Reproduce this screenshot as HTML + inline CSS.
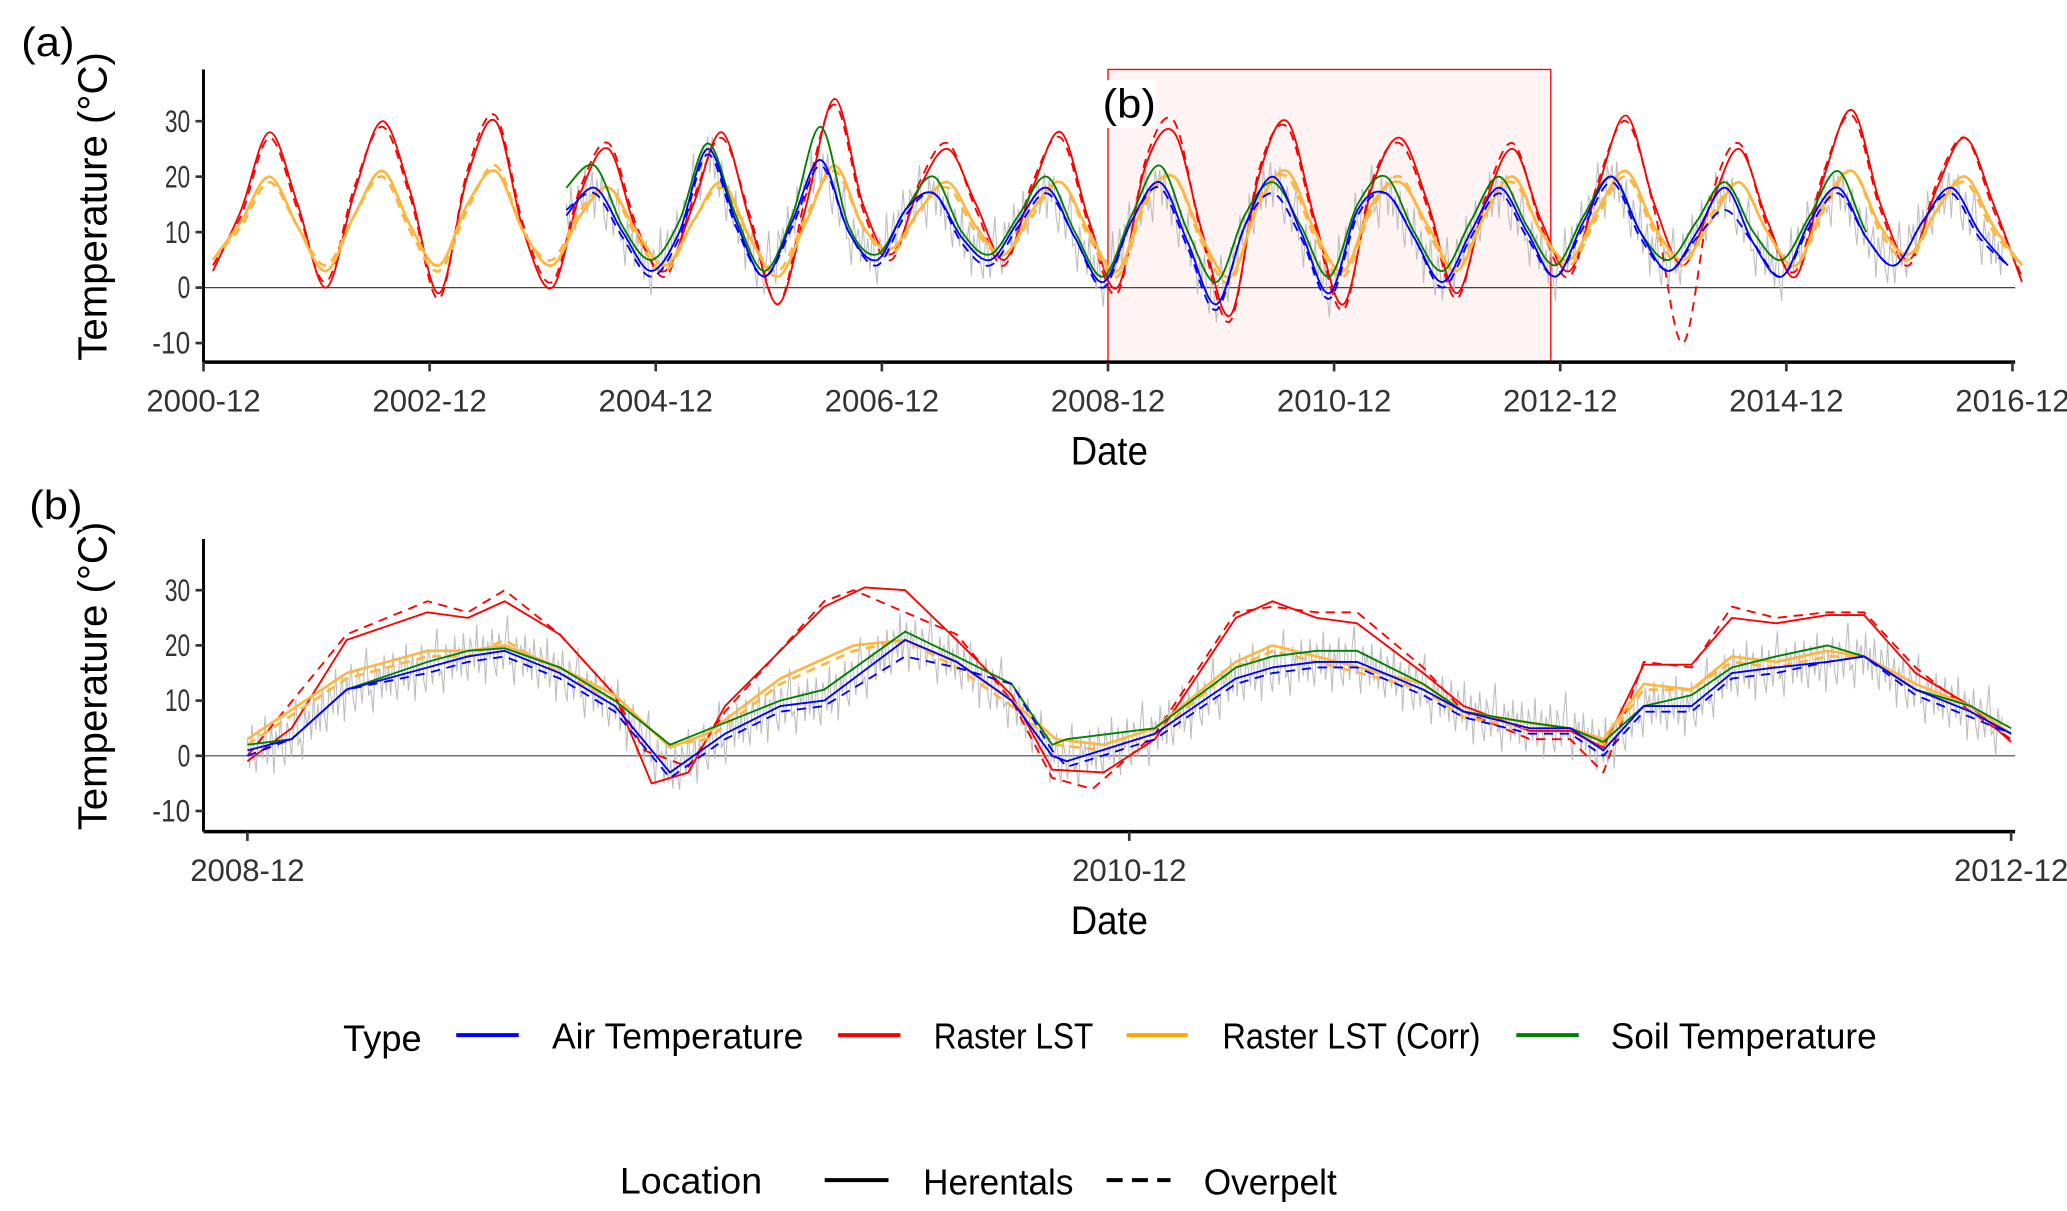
<!DOCTYPE html>
<html><head><meta charset="utf-8"><style>
html,body{margin:0;padding:0;background:#fff;}
svg{display:block;font-family:"Liberation Sans Narrow","Liberation Sans",sans-serif;}
</style></head><body>
<svg id="chart" width="2067" height="1211" viewBox="0 0 1554 910" xmlns="http://www.w3.org/2000/svg">
<g id="top"></g>
<g id="bot"></g>
<g id="legend">
  <text x="258" y="790" font-size="28" textLength="59" lengthAdjust="spacingAndGlyphs">Type</text>
  <line x1="343" y1="778" x2="390" y2="778" stroke="#0000ff" stroke-width="3"/>
  <text x="415" y="788" font-size="27" textLength="189" lengthAdjust="spacingAndGlyphs">Air Temperature</text>
  <line x1="630" y1="778" x2="677" y2="778" stroke="#ff0000" stroke-width="3"/>
  <text x="702" y="788" font-size="27" textLength="120" lengthAdjust="spacingAndGlyphs">Raster LST</text>
  <line x1="847" y1="778" x2="893" y2="778" stroke="#ffa500" stroke-width="3"/>
  <text x="919" y="788" font-size="27" textLength="194" lengthAdjust="spacingAndGlyphs">Raster LST (Corr)</text>
  <line x1="1140" y1="778" x2="1187" y2="778" stroke="#008000" stroke-width="3"/>
  <text x="1211" y="788" font-size="27" textLength="200" lengthAdjust="spacingAndGlyphs">Soil Temperature</text>
  <text x="466" y="897" font-size="28" textLength="107" lengthAdjust="spacingAndGlyphs">Location</text>
  <line x1="620" y1="887" x2="668" y2="887" stroke="#000" stroke-width="3"/>
  <text x="694" y="898" font-size="27" textLength="113" lengthAdjust="spacingAndGlyphs">Herentals</text>
  <line x1="832" y1="887" x2="880" y2="887" stroke="#000" stroke-width="3" stroke-dasharray="12,7"/>
  <text x="905" y="898" font-size="27" textLength="100" lengthAdjust="spacingAndGlyphs">Overpelt</text>
</g>
</svg>
<script>
// ---------- Panel (a): seasonal points, one every 3 months from 2001-01 (month offset from 2000-12) ----------
const topStartMonth = 1; // Jan 2001
const topStepMonths = 3;
const topLstH = [3,14,28,15, 0,17,30,17, -1,20,30,10, 0,17,25,10, 3,15,28,12, -3,15,34,15, 6,18,25,15, 5,18,28,12, 0,22,28,10, -5,20,30,12, -3,18,27,15, -1,15,25,12, 3,18,31,15, 4,15,25,12, 2,20,32,15, 5,18,27,15, 1];
const topLstO = [4,13,27,14, 1,18,29,16, -2,21,31,11, 1,18,26,11, 2,16,27,13, -3,17,33,14, 5,19,26,14, 4,19,27,11, -1,23,30,9, -6,21,29,11, -4,19,26,14, -2,16,26,11, 2,19,30,14, -10,16,26,11, 3,21,31,14, 4,19,27,14, 2];
const topCorrH = [5,12,20,11, 3,13,21,11, 4,15,21,10, 4,13,18,10, 4,12,19,9, 2,12,22,11, 7,14,19,11, 6,14,19,10, 3,16,20,9, 2,15,21,10, 3,15,19,11, 3,13,20,10, 5,14,21,11, 5,12,19,10, 4,15,21,11, 6,14,20,11, 4];
const topCorrO = [5,11,19,11, 4,13,20,10, 3,14,22,10, 5,14,18,9, 3,12,18,9, 3,13,21,11, 6,14,18,10, 6,13,19,9, 2,15,20,8, 1,16,20,9, 2,14,20,10, 3,14,19,10, 4,13,20,10, 4,13,19,10, 4,14,21,10, 5,14,19,10, 4];
const topAirStart = 13;
const topAirH = [13,18,10, 3,10,25,12, 2,12,23,10, 5,14,17,9, 5,12,18,9, 1,12,19,8, -3,11,20,10, -1,14,17,9, 1,10,18,10, 2,12,20,10, 3,10,18,8, 2,12,18,9, 4,12,18,10, 4];
const topAirO = [14,17,9, 2,9,24,11, 2,11,22,10, 4,13,17,8, 4,11,17,9, 0,12,18,7, -4,11,17,9, -2,13,17,9, 0,9,17,9, 2,11,19,9, 3,9,14,8, 2,11,17,9, 4,12,17,9, 4];
const topSoilH = [18,22,11, 5,12,26,13, 3,13,29,11, 6,14,20,10, 6,13,20,10, 2,13,22,10, 1,13,19,11, 2,15,20,10, 3,12,20,11, 4,13,20,10, 5,12,19,10, 5,13,21,10, 5];

// ---------- Panel (b): month offsets from 2008-12 ----------
const botLstHm = [0,1.2,2.7,4.9,6,7,8.5,10,11,12,13,15.7,16.8,17.9,19.3,20.8,21.9,23.3,24.7,26.9,27.9,29.1,30.2,32,33.1,34.9,36,36.9,38,39.3,40.4,41.6,43,44,45.4,46.9,48];
const botLstHv = [-1,5,21,26,25,28,22,11,-5,-3,9,27,30.5,30,21,11,-2.5,-3,3,25,28,25,24,15,9,4.5,4.5,1.5,16.5,16.5,25,24,25.5,25.5,15,9,2.5];
const botLstOm = [0,2.7,4.9,6,7,8.5,10,10.8,12,13,15.7,16.5,17.9,19.3,20.8,21.9,23,24.7,26.9,27.9,29.1,30.2,32,33.1,34.9,36,36.9,38,39.3,40.4,41.6,43,44,45.4,46.9,48];
const botLstOv = [0,22,28,26,30,22,11,1,-2,8,28,30,26,22,10,-4,-6,4,26,27,26,26,16,8,3,3,-3,17,16,27,25,26,26,16,8,3];
const botCorrHm = [0,2.7,4.9,6,7,8.5,10,11.5,12.5,14.5,16.5,17.9,19.3,20.8,22,23.3,24.7,26.9,27.9,29.1,32,33.1,34.9,36,36.9,38,39.3,40.4,41.6,43,44,45.4,46.9,48];
const botCorrHv = [3,15,19,19,20,16,11,1.5,4,14,20,21,17,10,3,2,5,17,20,18,13,8,6,5,3,13,12,18,17,19,18,13,9,4];
const botCorrOv = [2,14,18,18,21,15,10,2,3,13,19,21,16,9,2,1,4,16,19,17,12,7,5,5,2,12,12,17,16,18,18,12,8,4];
const botAirHm = [0,1.2,2.7,4.9,6,7,8.5,10,11.5,13,14.5,15.7,17.9,19.3,20.8,21.9,22.3,24.7,26.9,27.9,29.1,30.2,32,33.1,34.9,36,36.9,38,39.3,40.4,41.6,43,44,45.4,46.9,48];
const botAirHv = [1,3,12,16,18,19,15,9,-3,4,9,10,21,17,10,0,-1,4,14,16,17,17,12,8,5,5,1,9,9,15,16,17,18,12,8,4];
const botAirOv = [0,3,12,15,17,18,14,8,-4,3,8,9,18,16,13,1,-2,3,13,15,16,16,11,7,4,4,0,8,8,14,15,17,18,11,7,4];
const botSoilHv = [2,3,12,17,19,19.5,16,10,2,6,10,12,22.5,18,13,2,3,5,16,18,19,19,13,8,6,5,2.5,9,11,16,18,20,18,12,9,5];
// fixed spread pattern for the grey daily air-temperature trace (deviations in °C)
const dailySpread = [2,-3,4,-1,-4,3,1,-2,5,-3,0,3,-5,2,-1,4,-2,-4,3,1,-3,2,6,-2,-1,-5,3,0,2,-3,4,-2];

const NS = "http://www.w3.org/2000/svg";
function mk(tag, attrs, parent){const e=document.createElementNS(NS,tag);for(const k in attrs)e.setAttribute(k,attrs[k]);parent.appendChild(e);return e;}
function interp(ms, vs, m){ if(m<=ms[0])return vs[0]; for(let i=1;i<ms.length;i++){ if(m<=ms[i]){const f=(m-ms[i-1])/(ms[i]-ms[i-1]);return vs[i-1]+f*(vs[i]-vs[i-1]);} } return vs[vs.length-1]; }
function smoothPath(P){ // Catmull-Rom -> cubic bezier
  let d='M'+P[0][0].toFixed(1)+','+P[0][1].toFixed(1);
  for(let i=0;i<P.length-1;i++){
    const p0=P[i-1]||P[i],p1=P[i],p2=P[i+1],p3=P[i+2]||p2;
    const c1=[p1[0]+(p2[0]-p0[0])/6,p1[1]+(p2[1]-p0[1])/6], c2=[p2[0]-(p3[0]-p1[0])/6,p2[1]-(p3[1]-p1[1])/6];
    d+=' C'+c1.map(v=>v.toFixed(1)).join(',')+' '+c2.map(v=>v.toFixed(1)).join(',')+' '+p2[0].toFixed(1)+','+p2[1].toFixed(1);
  }
  return d;
}

function drawPanel(g, cfg){
  const X=cfg.x, Y=cfg.y;
  if(cfg.box){const r=mk('rect',{x:X(cfg.box[0]),y:cfg.top,width:X(cfg.box[1])-X(cfg.box[0]),height:cfg.bottom-cfg.top,fill:'#fff4f4',stroke:'#ff0000','stroke-width':1},g);
    
    }
  const z=mk('line',{x1:cfg.left,x2:cfg.right,y1:Y(0),y2:Y(0),stroke:'#444','stroke-width':0.9},g);
  
  
  const gm=cfg.grey; let pts=[]; let k=0;
  for(let m=gm.from;m<=gm.to;m+=gm.step){const v=interp(gm.ms,gm.vs,m)+dailySpread[k%dailySpread.length]*gm.amp;k++;pts.push(X(m).toFixed(1)+','+Y(v).toFixed(1));}
  const gl=mk('polyline',{points:pts.join(' '),fill:'none',stroke:'#bdbdbd','stroke-width':0.8},g);
  
  
  cfg.series.forEach(s=>{
    const P=s.ms.map((m,i)=>[X(m),Y(s.vs[i])]);
    const attrs={fill:'none',stroke:s.c,'stroke-width':s.w||1.4,'stroke-linejoin':'round'};
    if(s.dash)attrs['stroke-dasharray']='7,5';
    let l;
    if(cfg.smooth){attrs.d=smoothPath(P);l=mk('path',attrs,g);}
    else{attrs.points=P.map(p=>p[0].toFixed(1)+','+p[1].toFixed(1)).join(' ');l=mk('polyline',attrs,g);}
    
    
  });
  const ya=mk('line',{x1:cfg.left,x2:cfg.left,y1:cfg.top,y2:cfg.bottom,stroke:'#000','stroke-width':2.2},g);
  
  
  const xa=mk('line',{x1:cfg.left,x2:cfg.right,y1:cfg.bottom,y2:cfg.bottom,stroke:'#000','stroke-width':2.6},g);
  
  
  [30,20,10,0,-10].forEach(v=>{
    mk('line',{x1:cfg.left-6,x2:cfg.left,y1:Y(v),y2:Y(v),stroke:'#333','stroke-width':2},g);
    const s=String(v);
    const t=mk('text',{x:cfg.left-10,y:Y(v)+8,'font-size':24,fill:'#333','text-anchor':'end',textLength:s.length*9.5,lengthAdjust:'spacingAndGlyphs'},g);t.textContent=s;
    
    
  });
  cfg.xticks.forEach((lab,i)=>{
    const xm=cfg.xtickMonths[i];
    mk('line',{x1:X(xm),x2:X(xm),y1:cfg.bottom,y2:cfg.bottom+7,stroke:'#333','stroke-width':2},g);
    const t=mk('text',{x:X(xm),y:cfg.bottom+37,'font-size':24,fill:'#333','text-anchor':'middle',textLength:86,lengthAdjust:'spacingAndGlyphs'},g);t.textContent=lab;
    
    
  });
  const xt=mk('text',{x:834,y:cfg.bottom+77,'font-size':30,'text-anchor':'middle',textLength:58,lengthAdjust:'spacingAndGlyphs'},g);xt.textContent='Date';
  
  
  const yt=mk('text',{x:0,y:0,'font-size':31,'text-anchor':'middle',textLength:232,lengthAdjust:'spacingAndGlyphs',transform:`translate(80,${(cfg.top+cfg.bottom)/2-7}) rotate(-90)`},g);yt.textContent='Temperature (°C)';
  
  
  cfg.labels.forEach(L=>{
    mk('rect',{x:L[0]-4,y:L[1]-28,width:44,height:36,fill:'#fff'},g);
    const t=mk('text',{x:L[0],y:L[1],'font-size':31,textLength:40,lengthAdjust:'spacingAndGlyphs'},g);t.textContent=L[2];
    
    
  });
}

const topMonths=topLstH.map((_,i)=>topStartMonth+i*topStepMonths);
const airMonths=topAirH.map((_,i)=>topMonths[topAirStart]+i*topStepMonths-1.5);
const Xa=m=>153+m*7.0833, Ya=v=>216-v*4.17;
drawPanel(document.getElementById('top'),{
  x:Xa,y:Ya,left:153,right:1515,top:52,bottom:272,box:[96,143],smooth:true,
  grey:{ms:airMonths,vs:topAirH,from:airMonths[0],to:191,step:0.25,amp:1.1},
  series:[
    {name:'lst-herentals',ms:topMonths,vs:topLstH,c:'#ff0000'},
    {name:'lst-overpelt',ms:topMonths,vs:topLstO,c:'#ff0000',dash:1},
    {name:'lst-corr-herentals',ms:topMonths,vs:topCorrH,c:'#ffb640',w:2},
    {name:'lst-corr-overpelt',ms:topMonths,vs:topCorrO,c:'#ffb640',dash:1,w:2},
    {name:'soil-herentals',ms:airMonths,vs:topSoilH,c:'#008000'},
    {name:'air-herentals',ms:airMonths,vs:topAirH,c:'#0000ff'},
    {name:'air-overpelt',ms:airMonths,vs:topAirO,c:'#0000ff',dash:1}
  ],
  xticks:['2000-12','2002-12','2004-12','2006-12','2008-12','2010-12','2012-12','2014-12','2016-12'],
  xtickMonths:[0,24,48,72,96,120,144,168,192],
  labels:[[16,42,'(a)'],[829,88,'(b)']]
});
const Xb=m=>186+m*27.625, Yb=v=>568-v*4.15;
drawPanel(document.getElementById('bot'),{
  x:Xb,y:Yb,left:153,right:1515,top:405,bottom:625,
  grey:{ms:botAirHm,vs:botAirHv,from:0,to:47.8,step:0.06,amp:1.1},
  series:[
    {name:'lst-herentals',ms:botLstHm,vs:botLstHv,c:'#ff0000'},
    {name:'lst-overpelt',ms:botLstOm,vs:botLstOv,c:'#ff0000',dash:1},
    {name:'lst-corr-herentals',ms:botCorrHm,vs:botCorrHv,c:'#ffb640',w:2},
    {name:'lst-corr-overpelt',ms:botCorrHm,vs:botCorrOv,c:'#ffb640',dash:1,w:2},
    {name:'soil-herentals',ms:botAirHm,vs:botSoilHv,c:'#008000'},
    {name:'air-herentals',ms:botAirHm,vs:botAirHv,c:'#0000ff'},
    {name:'air-overpelt',ms:botAirHm,vs:botAirOv,c:'#0000ff',dash:1}
  ],
  xticks:['2008-12','2010-12','2012-12'],
  xtickMonths:[0,24,48],
  labels:[[22,390,'(b)']]
});
</script>
</body></html>
